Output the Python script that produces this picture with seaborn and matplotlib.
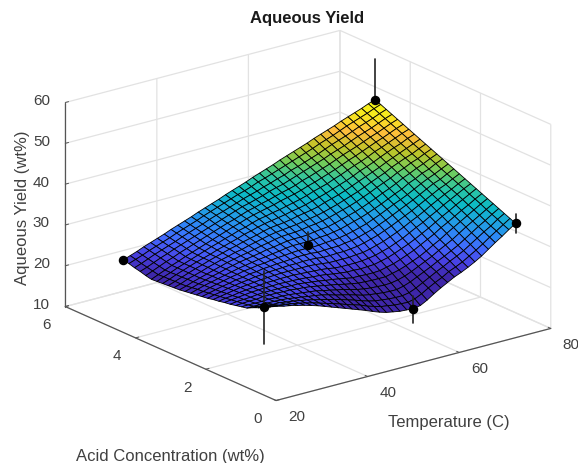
import numpy as np
import matplotlib
matplotlib.use('Agg')
import matplotlib.pyplot as plt
from matplotlib.transforms import ScaledTranslation
import seaborn as sns

# surface axes, values
acid = [1.0,1.16,1.32,1.48,1.64,1.8,1.96,2.12,2.28,2.44,2.6,2.76,2.92,3.08,3.24,3.4,3.56,3.72,3.88,4.04,4.2,4.36,4.52,4.68,4.84,5.0]
temperature = [25,26.49,27.97,29.46,30.95,32.43,33.92,35.41,36.89,38.38,39.86,41.35,42.84,44.32,45.81,47.3,48.78,50.27,51.76,53.24,54.73,56.22,57.7,59.19,60.68,62.16,63.65,65.14,66.62,68.11,69.59,71.08,72.57,74.05,75.54,77.03,78.51,80]
yield_grid = [
    [27.5,27.2,26.9,26.5,26.2,25.8,25.4,24.9,24.4,23.8,23.2,22.6,22.0,21.4,20.8,20.2,19.5,18.9,18.4,18.1,17.8,17.7,17.6,17.9,18.8,19.9,20.9,21.8,22.7,23.4,24.2,25.1,26.1,27.3,28.5,29.6,30.8,31.9],
    [26.8,26.6,26.4,26.1,25.9,25.6,25.3,24.9,24.5,24.0,23.5,23.0,22.5,21.9,21.4,20.9,20.2,19.7,19.2,19.0,18.7,18.6,18.5,18.9,19.7,20.7,21.6,22.4,23.4,24.1,24.9,25.9,26.9,28.0,29.2,30.3,31.4,32.5],
    [26.2,26.1,25.9,25.7,25.7,25.4,25.2,24.9,24.6,24.2,23.8,23.4,23.0,22.5,22.0,21.5,20.9,20.4,20.0,19.8,19.6,19.5,19.5,19.8,20.5,21.4,22.3,23.2,24.0,24.9,25.7,26.6,27.7,28.8,29.9,30.9,32.1,33.1],
    [25.5,25.5,25.5,25.4,25.4,25.3,25.2,24.9,24.7,24.4,24.2,23.9,23.5,23.0,22.6,22.2,21.7,21.2,20.9,20.7,20.5,20.4,20.4,20.8,21.4,22.2,23.0,23.8,24.7,25.5,26.4,27.3,28.4,29.5,30.6,31.6,32.7,33.7],
    [25.2,25.2,25.2,25.2,25.3,25.2,25.2,25.1,24.9,24.7,24.5,24.3,23.9,23.6,23.2,22.9,22.4,22.0,21.7,21.5,21.4,21.3,21.4,21.7,22.2,22.9,23.7,24.5,25.3,26.3,27.2,28.1,29.2,30.3,31.3,32.3,33.3,34.3],
    [24.9,25.0,25.1,25.1,25.3,25.3,25.3,25.2,25.2,25.0,24.9,24.7,24.4,24.1,23.8,23.5,23.1,22.8,22.5,22.4,22.3,22.3,22.3,22.7,23.1,23.7,24.4,25.1,26.0,27.0,27.9,29.0,30.0,31.0,32.0,33.0,34.0,34.9],
    [24.6,24.8,24.9,25.0,25.2,25.3,25.3,25.3,25.3,25.2,25.2,25.0,24.8,24.6,24.3,24.1,23.8,23.5,23.2,23.2,23.1,23.1,23.2,23.6,24.0,24.6,25.3,26.0,26.9,27.8,28.7,29.8,30.7,31.7,32.7,33.6,34.6,35.5],
    [24.4,24.6,24.8,25.0,25.2,25.3,25.4,25.4,25.5,25.4,25.4,25.3,25.2,25.0,24.9,24.7,24.4,24.2,24.0,24.0,23.9,24.0,24.1,24.5,24.9,25.5,26.2,26.9,27.7,28.6,29.5,30.5,31.5,32.4,33.4,34.3,35.2,36.1],
    [24.1,24.4,24.6,24.9,25.1,25.3,25.4,25.6,25.6,25.7,25.7,25.7,25.6,25.5,25.4,25.3,25.1,24.8,24.7,24.7,24.7,24.8,25.0,25.3,25.8,26.3,27.0,27.7,28.6,29.5,30.3,31.3,32.2,33.2,34.1,35.0,35.9,36.7],
    [23.9,24.2,24.5,24.8,25.1,25.3,25.5,25.7,25.8,25.9,26.0,26.0,26.0,26.0,26.0,25.9,25.7,25.5,25.5,25.5,25.5,25.7,25.8,26.2,26.7,27.2,27.9,28.6,29.4,30.3,31.1,32.0,33.0,33.9,34.8,35.6,36.5,37.3],
    [23.6,24.0,24.3,24.7,25.0,25.3,25.5,25.8,25.9,26.1,26.2,26.3,26.4,26.4,26.5,26.5,26.4,26.2,26.2,26.3,26.3,26.5,26.7,27.1,27.6,28.1,28.8,29.5,30.3,31.1,31.9,32.8,33.7,34.6,35.5,36.2,37.1,37.9],
    [23.4,23.8,24.2,24.6,24.9,25.3,25.5,25.9,26.0,26.3,26.4,26.6,26.7,26.8,27.0,27.0,27.0,26.8,26.9,27.0,27.0,27.3,27.5,27.9,28.4,28.9,29.6,30.3,31.1,31.9,32.7,33.5,34.4,35.3,36.2,36.8,37.7,38.5],
    [23.2,23.6,24.1,24.5,24.9,25.3,25.6,26.0,26.2,26.5,26.6,26.9,27.1,27.2,27.4,27.5,27.5,27.4,27.5,27.7,27.8,28.0,28.3,28.7,29.2,29.7,30.4,31.1,31.9,32.7,33.4,34.2,35.1,36.0,36.8,37.5,38.3,39.1],
    [23.0,23.5,24.0,24.4,24.8,25.2,25.6,26.0,26.3,26.6,26.9,27.1,27.4,27.6,27.9,28.1,28.1,28.1,28.2,28.4,28.5,28.8,29.1,29.6,30.1,30.6,31.2,31.9,32.6,33.4,34.2,34.9,35.9,36.6,37.5,38.1,39.0,39.7],
    [22.8,23.3,23.8,24.3,24.8,25.2,25.7,26.1,26.5,26.8,27.1,27.4,27.8,28.0,28.3,28.6,28.7,28.7,28.8,29.1,29.3,29.5,29.9,30.4,30.9,31.4,32.0,32.7,33.4,34.2,34.9,35.7,36.6,37.3,38.1,38.8,39.6,40.3],
    [22.6,23.1,23.7,24.2,24.7,25.2,25.7,26.2,26.6,27.0,27.3,27.7,28.1,28.4,28.8,29.1,29.2,29.3,29.5,29.8,30.0,30.3,30.7,31.2,31.7,32.2,32.8,33.5,34.2,35.0,35.7,36.4,37.3,38.0,38.8,39.4,40.2,40.9],
    [22.5,23.0,23.7,24.2,24.7,25.3,25.8,26.3,26.7,27.2,27.5,28.0,28.4,28.8,29.2,29.5,29.7,29.9,30.1,30.4,30.7,31.0,31.4,31.9,32.4,33.0,33.6,34.2,34.9,35.7,36.4,37.1,38.0,38.7,39.4,40.0,40.8,41.5],
    [22.4,23.0,23.6,24.2,24.8,25.3,25.9,26.4,26.9,27.4,27.8,28.3,28.7,29.1,29.6,30.0,30.2,30.4,30.7,31.1,31.4,31.7,32.1,32.7,33.2,33.7,34.3,35.0,35.7,36.4,37.1,37.8,38.6,39.3,40.0,40.7,41.4,42.1],
    [22.3,22.9,23.6,24.2,24.8,25.4,25.9,26.4,27.0,27.5,28.0,28.5,29.1,29.5,30.0,30.4,30.7,31.0,31.3,31.7,32.0,32.4,32.9,33.4,33.9,34.5,35.1,35.7,36.4,37.2,37.8,38.5,39.3,40.0,40.7,41.3,42.1,42.7],
    [22.2,22.9,23.5,24.2,24.8,25.4,26.0,26.6,27.2,27.7,28.3,28.8,29.4,29.8,30.4,30.9,31.2,31.6,31.9,32.3,32.7,33.1,33.6,34.2,34.7,35.2,35.9,36.5,37.2,37.9,38.5,39.2,40.0,40.6,41.3,42.0,42.7,43.3],
    [22.1,22.8,23.5,24.2,24.8,25.5,26.1,26.7,27.3,27.9,28.5,29.1,29.7,30.2,30.8,31.3,31.7,32.1,32.5,33.0,33.4,33.8,34.3,34.9,35.4,36.0,36.6,37.2,37.9,38.6,39.2,39.9,40.6,41.3,41.9,42.6,43.3,43.9],
    [22.4,23.1,23.8,24.5,25.1,25.8,26.4,27.0,27.6,28.2,28.8,29.4,30.0,30.5,31.1,31.7,32.1,32.6,33.0,33.5,34.0,34.4,34.9,35.6,36.1,36.7,37.3,37.9,38.6,39.3,39.9,40.5,41.2,41.9,42.5,43.2,43.9,44.5],
    [22.8,23.4,24.1,24.8,25.4,26.1,26.7,27.3,27.9,28.5,29.1,29.7,30.3,30.9,31.5,32.1,32.5,33.0,33.5,34.1,34.6,35.0,35.6,36.2,36.8,37.4,38.0,38.6,39.3,39.9,40.5,41.2,41.9,42.5,43.1,43.8,44.5,45.1],
    [23.1,23.7,24.4,25.1,25.7,26.3,26.9,27.6,28.2,28.8,29.4,30.1,30.7,31.2,31.8,32.4,33.0,33.5,34.0,34.6,35.1,35.7,36.2,36.9,37.4,38.0,38.6,39.2,39.9,40.6,41.2,41.8,42.5,43.2,43.8,44.4,45.1,45.7],
    [23.5,24.1,24.7,25.4,26.0,26.6,27.2,27.9,28.5,29.1,29.7,30.4,31.0,31.6,32.2,32.8,33.4,33.9,34.5,35.2,35.7,36.3,36.9,37.5,38.1,38.7,39.3,39.9,40.6,41.2,41.8,42.5,43.2,43.8,44.4,45.0,45.7,46.3],
    [23.8,24.4,25.0,25.7,26.3,26.9,27.5,28.2,28.8,29.4,30.0,30.7,31.3,31.9,32.5,33.2,33.8,34.4,35.0,35.7,36.3,36.9,37.5,38.2,38.8,39.4,40.0,40.6,41.3,41.9,42.5,43.1,43.8,44.4,45.0,45.6,46.3,46.9],
]

# measured points
pt_temp = [25, 25, 57.5, 80, 80, 50]
pt_acid = [5, 1, 1, 1, 5, 3]
pt_yield = [23.8, 27.5, 17.5, 31.9, 46.9, 27.8]
pt_err = [0, 9, 3.3, 2.4, 10, 3.2]

temp_ticks = [20, 40, 60, 80]
acid_ticks = [0, 2, 4, 6]
yield_ticks = [10, 20, 30, 40, 50, 60]

parula = ['#3e26a8', '#4840e3', '#4367fd', '#2e87f7', '#1fa3e1', '#0bbac5', '#2dc5a2',
          '#72cc5b', '#c0c428', '#fdbc3c', '#f6e620', '#f9fb15']

sns.set_theme(style='white')
plt.rcParams['font.family'] = ['Liberation Sans', 'DejaVu Sans']
cmap = sns.blend_palette(parula, n_colors=64, as_cmap=True)

W, H = 578, 463
fig = plt.figure(figsize=(W / 100, H / 100), dpi=100)
ax = fig.add_axes([41 / W, -19.5 / H, 520 / W, 520 / H], projection='3d')
ax.patch.set_alpha(0)
ax.set_proj_type('ortho')
ax.view_init(elev=20, azim=-127.5)
ax.computed_zorder = False

T, A = np.meshgrid(temperature, acid)
ax.plot_surface(T, A, np.array(yield_grid), cmap=cmap, vmin=22.5, vmax=46.9, rstride=1, cstride=1,
                edgecolor='black', linewidth=0.6, shade=False, zorder=3)

for t, a, z, e in zip(pt_temp, pt_acid, pt_yield, pt_err):
    # lower half sits behind the surface except on the front edge
    low_z = 4 if a == 1 else 1
    ax.plot([t, t], [a, a], [z - e, z], color='#222222', linewidth=1.2, zorder=low_z)
    ax.plot([t, t], [a, a], [z, z + e], color='#222222', linewidth=1.2, zorder=4)
ax.scatter(pt_temp, pt_acid, pt_yield, color='black', s=34, depthshade=False, zorder=5)

ax.set_xlim(20, 80, view_margin=0)
ax.set_ylim(0, 6, view_margin=0)
ax.set_zlim(10, 60, view_margin=0)
ax.set_box_aspect((346, 346, 217))
ax.set_xticks(temp_ticks)
ax.set_yticks(acid_ticks)
ax.set_zticks(yield_ticks)

for axis in (ax.xaxis, ax.yaxis, ax.zaxis):
    axis.set_pane_color((1, 1, 1, 0))
    axis.pane.set_edgecolor('none')
    axis.line.set_color('#555555')
    axis.line.set_linewidth(0.9)
    axis._axinfo['grid'].update(color='#e2e2e2', linewidth=0.9)
    axis._axinfo['tick'].update(inward_factor=0.0, outward_factor=0.15, linewidth={True: 0.7, False: 0.7}, color='#555555')
ax.grid(True)
ax.tick_params(axis='x', labelcolor='#404040', color='#555555', labelsize=11, pad=3)
ax.tick_params(axis='y', labelcolor='#404040', color='#555555', labelsize=11, pad=5)
ax.tick_params(axis='z', labelcolor='#404040', color='#555555', labelsize=11, pad=5)

# tick labels sit a little higher than the default spot
def nudge(labels, ha, dy):
    shift = ScaledTranslation(0, dy / 100, fig.dpi_scale_trans)
    for lab in labels:
        lab.set_ha(ha)
        lab.set_va('center')
        lab.set_transform(lab.get_transform() + shift)

nudge(ax.get_xticklabels(), 'left', 5)
nudge(ax.get_yticklabels(), 'center', 5)
nudge(ax.get_zticklabels(), 'left', 5)

fig.text(307.5 / W, 1 - 18.5 / H, 'Aqueous Yield', ha='center', va='center', fontsize=12, fontweight='bold', color='#1a1a1a')
fig.text(448.5 / W, 1 - 422 / H, 'Temperature (C)', ha='center', va='center', fontsize=12, color='#404040')
fig.text(170 / W, 1 - 456.5 / H, 'Acid Concentration (wt%)', ha='center', va='center', fontsize=12, color='#404040')
fig.text(23 / W, 1 - 208 / H, 'Aqueous Yield (wt%)', ha='center', va='center', rotation=90, fontsize=12, color='#404040')

fig.savefig('out.png', dpi=100)
